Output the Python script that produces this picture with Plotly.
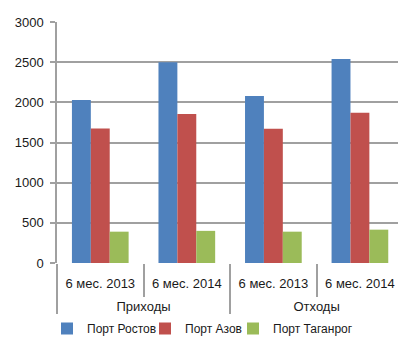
import plotly.graph_objects as go

# Two-level categories: period (inner) within movement type (outer)
groups = ["Приходы", "Приходы", "Отходы", "Отходы"]
periods = ["6 мес. 2013", "6 мес. 2014", "6 мес. 2013", "6 мес. 2014"]

series_names = ["Порт Ростов", "Порт Азов", "Порт Таганрог"]
rostov = [2030, 2500, 2080, 2540]
azov = [1675, 1855, 1670, 1870]
taganrog = [390, 400, 390, 415]
colors = ["#4F81BD", "#C0504D", "#9BBB59"]

y_ticks = [0, 500, 1000, 1500, 2000, 2500, 3000]

# outer labels start one line lower to leave room under the period labels
group_labels = ["<br>" + g for g in groups]

W, H = 398, 346

# one legend box per series so the entries sit close together
legend_ids = ["legend", "legend2", "legend3"]
legend_left = [47, 145, 233]

fig = go.Figure()
for name, vals, col, lid in zip(series_names, [rostov, azov, taganrog], colors, legend_ids):
    fig.add_trace(go.Bar(
        x=[group_labels, periods], y=vals, name=name,
        marker=dict(color=col, line=dict(width=0)),
        legend=lid,
    ))

font_family = "Liberation Sans, Arial, sans-serif"
axis_gray = "#a0a0a0"
text_color = "#1a1a1a"


def legend_box(px):
    return dict(
        orientation="h",
        x=px / W, xanchor="left", xref="container",
        y=1 - 314 / H, yanchor="top", yref="container",
        font=dict(size=12, color=text_color),
        itemwidth=30, tracegroupgap=0,
        bgcolor="rgba(0,0,0,0)",
    )


fig.update_layout(
    width=W, height=H,
    margin=dict(l=57, r=0, t=22, b=83, autoexpand=False),
    paper_bgcolor="white", plot_bgcolor="white",
    barmode="group", bargap=0.345, bargroupgap=0,
    font=dict(family=font_family, size=13, color=text_color),
    showlegend=True,
    legend=legend_box(legend_left[0]),
    legend2=legend_box(legend_left[1]),
    legend3=legend_box(legend_left[2]),
    xaxis=dict(
        type="multicategory",
        range=[-0.5, 3.44],
        showline=False,
        ticks="outside", tickson="boundaries", ticklen=33,
        tickcolor=axis_gray, tickwidth=1.5,
        showdividers=True, dividercolor=axis_gray, dividerwidth=1.5,
        tickfont=dict(size=13),
        ticklabelstandoff=11,
        showgrid=False, zeroline=False,
    ),
    yaxis=dict(
        range=[0, 3000], tickvals=y_ticks,
        showgrid=True, gridcolor=axis_gray, gridwidth=1.5,
        showline=True, linecolor=axis_gray, linewidth=1.5,
        ticks="outside", ticklen=5, tickcolor=axis_gray, tickwidth=1.5,
        zeroline=False,
        tickfont=dict(size=13),
        ticklabelstandoff=4,
    ),
)

fig.write_html("out.html")
